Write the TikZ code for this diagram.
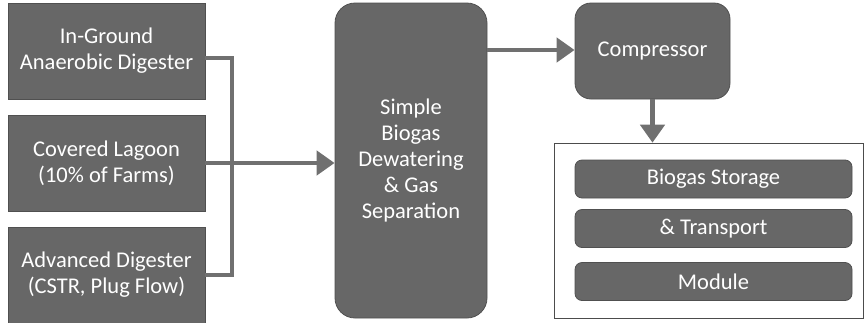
\documentclass[tikz,border=0pt]{standalone}
\usepackage{fontspec}
\setmainfont{Carlito}
\usetikzlibrary{arrows.meta}
\definecolor{boxfill}{HTML}{676767}
\definecolor{boxedge}{HTML}{505050}
\definecolor{flow}{HTML}{707070}
\tikzset{
  block/.style={draw=boxedge, line width=0.8pt, fill=boxfill, text=white,
    font=\fontsize{22.5}{26}\selectfont, align=center, inner sep=0pt},
  pipe/.style={draw=flow, line width=4.5pt},
  flowarrow/.style={pipe, -{Triangle[length=18pt,width=24pt]}},
}
\begin{document}
\begin{tikzpicture}[x=1pt,y=-1pt]
\useasboundingbox (0,0) rectangle (864,322);
% source digesters
\node[block, minimum width=197, minimum height=96] (ig) at (106.5,51) {In-Ground\\Anaerobic Digester};
\node[block, minimum width=197, minimum height=96] (cl) at (106.5,163) {Covered Lagoon\\(10\% of Farms)};
\node[block, minimum width=197, minimum height=96] (ad) at (106.5,275) {Advanced Digester\\(CSTR, Plug Flow)};
% separation unit
\node[block, rounded corners=20, minimum width=152, minimum height=315] (sep) at (411,160.5) {Simple\\Biogas\\Dewatering\\\& Gas\\Separation};
% compressor
\node[block, rounded corners=16, minimum width=155, minimum height=96] (comp) at (652.5,51) {Compressor};
% storage module container
\node[draw=black!70, line width=0.6pt, fill=white, minimum width=309, minimum height=175, inner sep=0pt] (mod) at (709,230.5) {};
\node[block, rounded corners=7, minimum width=277, minimum height=38] (s1) at (713.5,179) {Biogas Storage};
\node[block, rounded corners=7, minimum width=277, minimum height=38] (s2) at (713.5,228.5) {\& Transport};
\node[block, rounded corners=7, minimum width=277, minimum height=38] (s3) at (713.5,281.5) {Module};
% manifold joining the three digesters
\coordinate (bus) at (232,163);
\draw[pipe, line cap=butt] (ig.east |- 0,58) -| (232,275) -- (ad.east |- 0,275);
\draw[pipe] (cl.east) -- (bus);
\draw[flowarrow] (bus) -- (sep.west |- bus);
\draw[flowarrow] (sep.east |- 0,50) -- (comp.west |- 0,50);
\draw[flowarrow] (comp.south) -- (mod.north -| comp.south);
\end{tikzpicture}
\end{document}
